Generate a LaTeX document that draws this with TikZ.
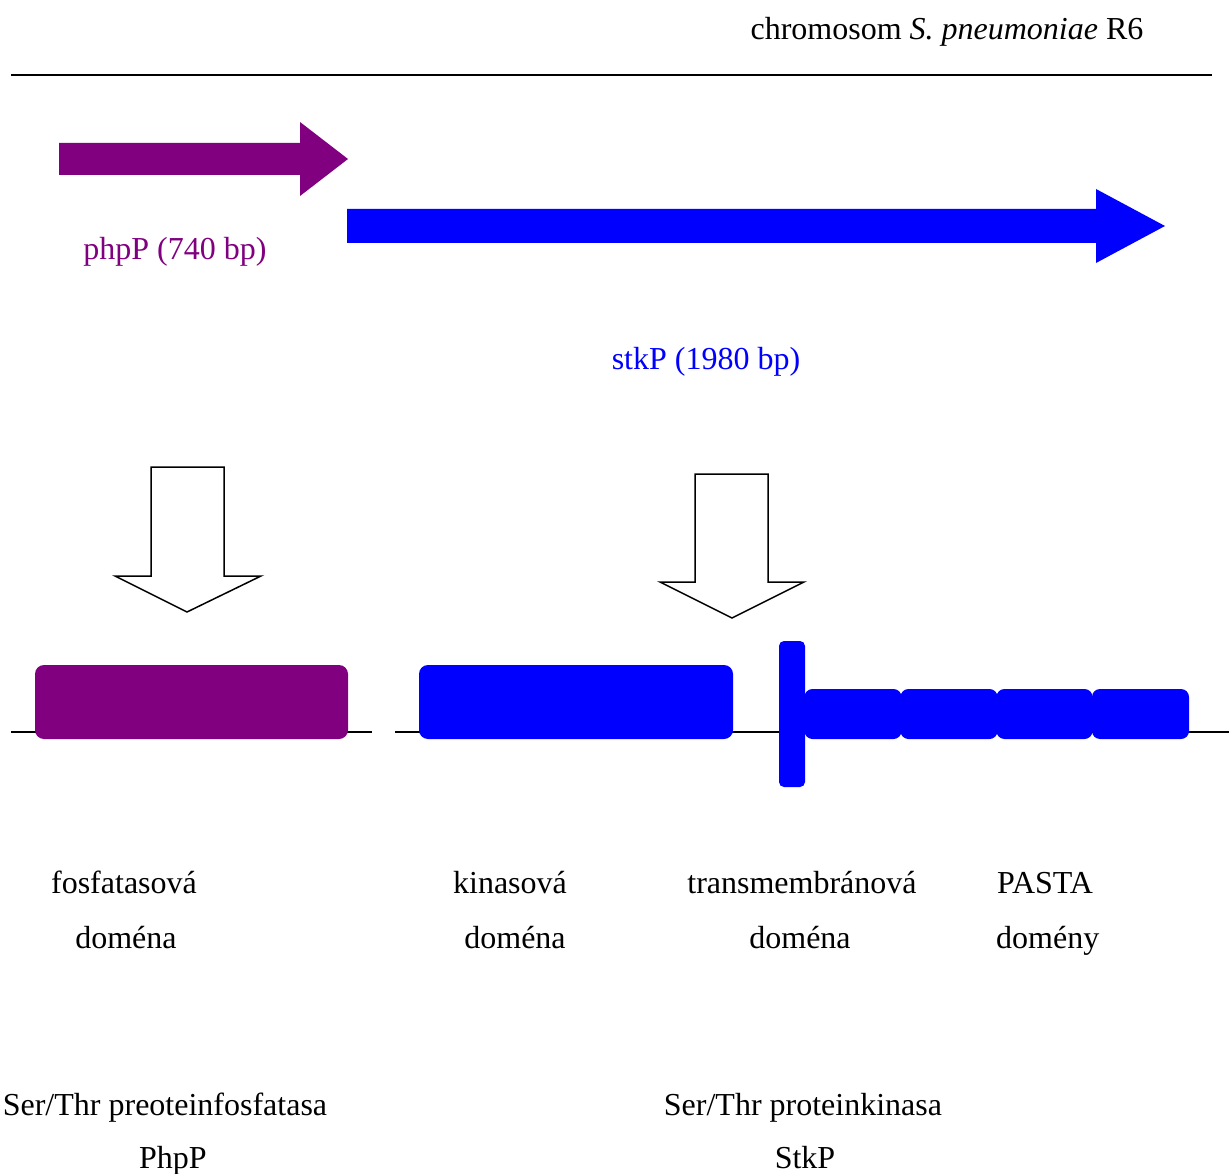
\documentclass[tikz,border=0pt]{standalone}
\usepackage{fontspec}
\setmainfont{Liberation Serif}
\definecolor{gpurple}{RGB}{128,0,128}
\definecolor{gblue}{RGB}{0,0,255}
\begin{document}
\begin{tikzpicture}[x=1pt,y=-1pt,
  txt/.style={inner sep=0pt,anchor=base,font=\fontsize{32}{38}\selectfont},
  dombox/.style={rounded corners=9pt,inner sep=0pt,draw=none},
  bline/.style={line width=1.5pt,black},
  openarrow/.style={draw=black,line width=1.5pt,fill=white,line join=miter}]
\useasboundingbox (0,0) rectangle (1229,1174);
% title and chromosome line
\node[txt] (title) at (947,40) {chromosom \textit{S. pneumoniae} R6};
\coordinate (cl) at (11,75);
\coordinate (cr) at (1212,75);
\draw[bline] (cl) -- (cr);
% gene arrows
\fill[gpurple] (59,143) -- (300,143) -- (300,122) -- (348,159) -- (300,196) -- (300,175) -- (59,175) -- cycle;
\fill[gblue] (347,209) -- (1096,209) -- (1096,189) -- (1165,226) -- (1096,263) -- (1096,243) -- (347,243) -- cycle;
\node[txt,text=gpurple] (php) at (175,260) {phpP (740 bp)};
\node[txt,text=gblue] (stk) at (706,370) {stkP (1980 bp)};
% open arrows
\draw[openarrow] (151,467) -- (224,467) -- (224,576) -- (261,576) -- (187,612) -- (115,576) -- (151,576) -- cycle;
\draw[openarrow] (695,474) -- (768,474) -- (768,582) -- (804,582) -- (732,618) -- (660,582) -- (695,582) -- cycle;
% domain lines
\coordinate (l1a) at (11,732);
\coordinate (l1b) at (372,732);
\coordinate (l2a) at (395,732);
\coordinate (l2b) at (1229,732);
\draw[bline] (l1a) -- (l1b);
\draw[bline] (l2a) -- (l2b);
% domains
\node[dombox,fill=gpurple,minimum width=313,minimum height=74] (fos) at (191.5,702) {};
\node[dombox,fill=gblue,minimum width=314,minimum height=74] (kin) at (576,702) {};
\node[dombox,fill=gblue,rounded corners=5pt,minimum width=26,minimum height=146] (tm) at (792,714) {};
\node[dombox,fill=gblue,rounded corners=8pt,minimum width=97,minimum height=50] (p1) at (853,714) {};
\node[dombox,fill=gblue,rounded corners=8pt,minimum width=97,minimum height=50] (p2) at (949,714) {};
\node[dombox,fill=gblue,rounded corners=8pt,minimum width=96,minimum height=50] (p3) at (1044.5,714) {};
\node[dombox,fill=gblue,rounded corners=8pt,minimum width=97,minimum height=50] (p4) at (1140.5,714) {};
% labels
\node[txt] (t1a) at (124,893) {fosfatasová};
\node[txt] (t1b) at (126,948) {doména};
\node[txt] (t2a) at (510,893) {kinasová};
\node[txt] (t2b) at (515,948) {doména};
\node[txt] (t3a) at (802,893) {transmembránová};
\node[txt] (t3b) at (800,948) {doména};
\node[txt,anchor=base west] (t4a) at (997,893) {PASTA};
\node[txt,anchor=base west] (t4b) at (996,948) {domény};
\node[txt] (b1a) at (165,1115) {Ser/Thr preoteinfosfatasa};
\node[txt] (b1b) at (173,1168) {PhpP};
\node[txt] (b2a) at (803,1115) {Ser/Thr proteinkinasa};
\node[txt] (b2b) at (805,1168) {StkP};
\end{tikzpicture}
\end{document}
